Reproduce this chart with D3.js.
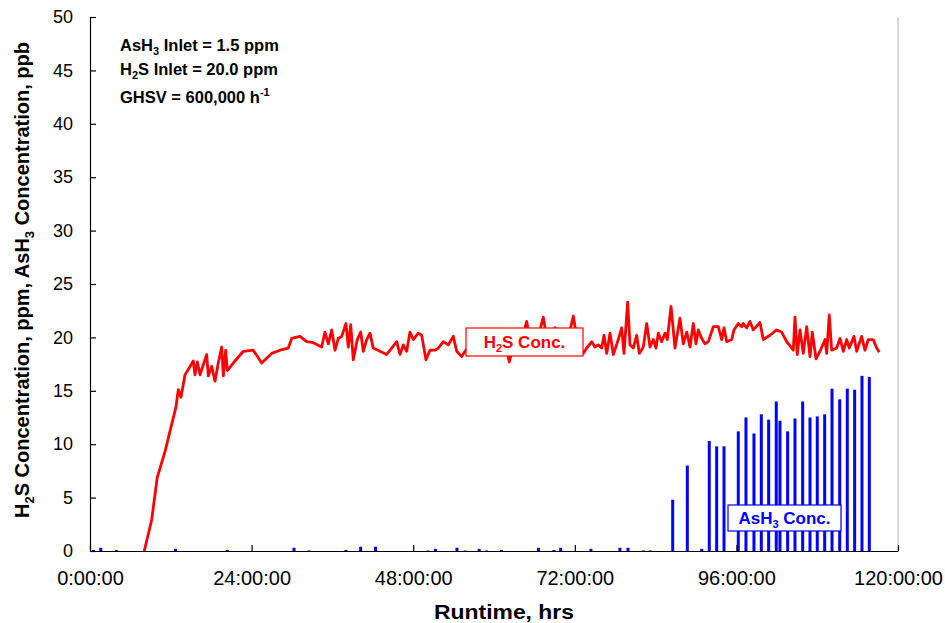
<!DOCTYPE html>
<html>
<head>
<meta charset="utf-8">
<script src="https://cdn.jsdelivr.net/npm/d3@7"></script>
<style>
  body { margin: 0; background: #fff; }
  text { font-family: "Liberation Sans", Arial, sans-serif; }
</style>
</head>
<body>
<div id="chart"></div>
<script>
// H2S outlet concentration (ppm) vs runtime (hrs)
var h2sHours = [8.06, 9.16, 9.99, 11.14, 12.77, 13.11, 13.51, 14.11, 14.60, 15.34,
  15.59, 15.94, 16.34, 17.33, 17.57, 18.07, 18.56, 19.05, 19.56, 19.80,
  20.15, 20.39, 21.28, 22.77, 24.25, 25.50, 26.98, 28.22, 29.45, 29.95,
  31.19, 32.18, 33.16, 34.41, 34.90, 35.39, 35.90, 36.39, 36.88, 37.38,
  38.02, 38.36, 38.72, 39.10, 39.70, 40.20, 40.59, 41.09, 41.58, 42.07,
  43.07, 44.06, 44.81, 45.55, 46.04, 46.53, 47.03, 47.52, 48.01, 48.76,
  49.26, 49.90, 50.49, 51.24, 51.73, 52.47, 53.21, 53.95, 54.46, 55.20,
  55.69, 56.44, 57.33, 58.22, 59.11, 60.00, 60.89, 61.63, 62.27, 62.97,
  63.86, 64.85, 65.49, 66.38, 67.32, 68.02, 69.06, 69.80, 70.69, 71.78,
  72.47, 73.26, 73.77, 74.51, 75.00, 75.49, 75.99, 76.34, 76.74, 77.23,
  77.72, 78.46, 78.96, 79.31, 79.85, 80.20, 80.69, 81.19, 81.58, 82.17,
  82.68, 83.17, 83.66, 84.06, 84.40, 84.90, 85.40, 85.74, 86.29, 86.88,
  87.62, 88.11, 88.62, 89.11, 89.60, 90.00, 90.34, 90.85, 91.34, 91.83,
  92.57, 93.31, 93.82, 94.16, 94.56, 95.30, 95.64, 96.28, 96.79, 97.02,
  97.53, 98.02, 98.51, 99.50, 99.99, 100.99, 101.98, 102.72, 103.47, 104.45,
  104.70, 105.04, 105.45, 105.93, 106.44, 106.93, 107.27, 107.82, 108.42, 109.16,
  109.41, 109.79, 110.15, 110.89, 111.39, 111.88, 112.38, 112.76, 113.46, 113.86,
  114.60, 115.09, 115.58, 116.32, 116.83, 117.22];
var h2sConc = [0, 2.9, 6.9, 9.3, 13.5, 15.1, 14.4, 16.5, 17.0, 17.8,
  16.5, 17.7, 16.5, 18.4, 16.4, 17.3, 15.9, 17.6, 19.1, 16.4,
  18.8, 16.9, 17.6, 18.7, 18.8, 17.6, 18.5, 18.8, 19.0, 19.9,
  20.1, 19.6, 19.5, 19.1, 20.5, 19.4, 20.7, 18.8, 19.9, 20.1,
  21.3, 19.1, 21.2, 17.9, 19.8, 20.5, 18.7, 19.8, 20.4, 19.0,
  18.7, 18.4, 19.0, 19.6, 18.4, 19.3, 18.7, 20.5, 19.8, 20.4,
  20.2, 17.9, 18.8, 18.8, 19.0, 19.6, 19.3, 20.1, 18.7, 18.2,
  18.7, 19.3, 18.8, 19.5, 19.0, 19.6, 19.2, 19.8, 17.7, 19.4,
  19.0, 21.5, 19.3, 19.6, 21.9, 19.2, 20.9, 19.4, 19.0, 22.0,
  19.3, 18.5, 19.0, 19.6, 19.1, 19.3, 19.0, 20.2, 18.5, 20.4,
  18.4, 19.8, 20.9, 18.5, 23.3, 19.3, 19.0, 20.2, 18.5, 19.1,
  21.3, 19.1, 19.8, 19.0, 20.4, 19.6, 20.4, 19.8, 22.9, 19.0,
  21.8, 19.4, 20.5, 19.1, 21.3, 19.4, 20.7, 19.9, 19.4, 19.6,
  21.0, 21.0, 19.8, 20.9, 19.6, 19.8, 20.7, 21.3, 21.0, 21.3,
  20.9, 21.5, 20.7, 21.4, 19.8, 20.2, 20.7, 20.5, 19.6, 18.8,
  21.9, 18.4, 20.7, 18.5, 21.0, 18.2, 20.5, 18.0, 18.7, 19.8,
  18.5, 22.1, 18.8, 19.0, 19.9, 18.7, 19.8, 19.0, 20.1, 18.7,
  20.1, 18.8, 19.8, 19.8, 19.0, 18.6];

// AsH3 outlet concentration (ppb) samples vs runtime (hrs)
var ashHours = [0.5, 1.6, 3.9, 12.7, 20.4, 30.3, 32.5, 38.0, 40.2, 42.4,
  50.2, 51.3, 54.5, 55.7, 57.8, 58.9, 61.1, 66.6, 68.9, 69.9,
  74.4, 78.7, 79.9, 82.2, 83.2, 86.54, 88.71, 90.85, 91.97, 93.07,
  94.16, 96.28, 97.42, 98.61, 99.70, 100.79, 101.92, 102.47, 103.61, 104.70,
  105.84, 106.93, 108.01, 109.11, 110.20, 111.34, 112.47, 113.56, 114.65, 115.74];
var ashConc = [0.1, 0.3, 0.1, 0.2, 0.1, 0.3, 0.05, 0.1, 0.4, 0.4,
  0.05, 0.2, 0.3, 0.05, 0.2, 0.05, 0.1, 0.3, 0.1, 0.3,
  0.2, 0.3, 0.3, 0.05, 0.05, 4.8, 8.0, 0.2, 10.3, 9.8,
  9.8, 11.2, 12.5, 11.0, 12.8, 12.3, 14.0, 12.2, 11.2, 12.4,
  14.0, 12.5, 12.6, 12.8, 15.2, 14.2, 15.2, 15.1, 16.4, 16.3];

var xTicks = [0, 24, 48, 72, 96, 120];
var xTickLabels = ["0:00:00", "24:00:00", "48:00:00", "72:00:00", "96:00:00", "120:00:00"];
var yTicks = [0, 5, 10, 15, 20, 25, 30, 35, 40, 45, 50];

var outerWidth = 945,
    outerHeight = 623,
    margin = {top: 17, right: 47, bottom: 72, left: 90},
    width = outerWidth - margin.left - margin.right,
    height = outerHeight - margin.top - margin.bottom;

var xScale = d3.scaleLinear().domain([0, 120]).range([0, width]);
var yScale = d3.scaleLinear().domain([0, 50]).range([height, 0]);

var svg = d3.select("#chart")
    .append("svg")
    .attr("width", outerWidth)
    .attr("height", outerHeight);

var g = svg.append("g")
    .attr("transform", "translate(" + margin.left + "," + margin.top + ")");

// light right border of plot area
g.append("line")
    .attr("x1", width).attr("x2", width)
    .attr("y1", 0).attr("y2", height)
    .attr("stroke", "#b0b0b0")
    .attr("stroke-width", 1);

// AsH3 drop lines
g.selectAll(".ash")
    .data(ashHours)
    .enter().append("line")
    .attr("class", "ash")
    .attr("x1", d => xScale(d))
    .attr("x2", d => xScale(d))
    .attr("y1", yScale(0))
    .attr("y2", (d, i) => yScale(ashConc[i]))
    .attr("stroke", "#0000ff")
    .attr("stroke-width", 3);

// H2S line
var line = d3.line()
    .x(d => xScale(d))
    .y((d, i) => yScale(h2sConc[i]));

g.append("path")
    .datum(h2sHours)
    .attr("d", line)
    .attr("fill", "none")
    .attr("stroke", "#ff0000")
    .attr("stroke-width", 2.8)
    .attr("stroke-linejoin", "round");

// axes, ticks point inwards
var xAxis = d3.axisBottom(xScale)
    .tickValues(xTicks)
    .tickSizeInner(-6)
    .tickSizeOuter(0)
    .tickPadding(20)
    .tickFormat((d, i) => xTickLabels[i]);

var yAxis = d3.axisLeft(yScale)
    .tickValues(yTicks)
    .tickSizeInner(-6)
    .tickSizeOuter(0)
    .tickPadding(17);

var gx = g.append("g")
    .attr("transform", "translate(0," + height + ")")
    .call(xAxis);
gx.selectAll("text").attr("font-size", 20).attr("fill", "#000");

var gy = g.append("g").call(yAxis);
gy.selectAll("text").attr("font-size", 18).attr("fill", "#000");

svg.selectAll(".domain, .tick line").attr("stroke", "#000").attr("stroke-width", 1.2);

// axis titles
svg.append("text")
    .attr("x", 504)
    .attr("y", 619)
    .attr("text-anchor", "middle")
    .attr("font-size", 20)
    .attr("font-weight", "bold")
    .attr("textLength", 140)
    .attr("lengthAdjust", "spacingAndGlyphs")
    .text("Runtime, hrs");

var yTitle = svg.append("text")
    .attr("transform", "translate(29,280) rotate(-90)")
    .attr("text-anchor", "middle")
    .attr("font-size", 20)
    .attr("font-weight", "bold");
yTitle.append("tspan").text("H");
yTitle.append("tspan").attr("font-size", 13).attr("dy", 5).text("2");
yTitle.append("tspan").attr("dy", -5).text("S Concentration, ppm, AsH");
yTitle.append("tspan").attr("font-size", 13).attr("dy", 5).text("3");
yTitle.append("tspan").attr("dy", -5).text(" Concentration, ppb");

// conditions text
var notes = svg.append("g").attr("font-size", 16.5).attr("font-weight", "bold");
var n1 = notes.append("text").attr("x", 120).attr("y", 51);
n1.append("tspan").text("AsH");
n1.append("tspan").attr("font-size", 11).attr("dy", 4).text("3");
n1.append("tspan").attr("dy", -4).text(" Inlet = 1.5 ppm");
var n2 = notes.append("text").attr("x", 120).attr("y", 75);
n2.append("tspan").text("H");
n2.append("tspan").attr("font-size", 11).attr("dy", 4).text("2");
n2.append("tspan").attr("dy", -4).text("S Inlet = 20.0 ppm");
var n3 = notes.append("text").attr("x", 120).attr("y", 103);
n3.append("tspan").text("GHSV = 600,000 h");
n3.append("tspan").attr("font-size", 11).attr("dy", -7).text("-1");

// series labels
function seriesLabel(cx, cy, w, h, color, parts) {
  svg.append("rect")
      .attr("x", cx - w / 2).attr("y", cy - h / 2)
      .attr("width", w).attr("height", h)
      .attr("fill", "#fff")
      .attr("stroke", color)
      .attr("stroke-width", 1.2);
  var t = svg.append("text")
      .attr("x", cx).attr("y", cy + 6)
      .attr("text-anchor", "middle")
      .attr("font-size", 17)
      .attr("font-weight", "bold")
      .attr("fill", color);
  t.append("tspan").text(parts[0]);
  t.append("tspan").attr("font-size", 11).attr("dy", 4).text(parts[1]);
  t.append("tspan").attr("dy", -4).text(parts[2]);
}
seriesLabel(524.5, 342, 117, 28, "#ff0000", ["H", "2", "S Conc."]);
seriesLabel(784.5, 518, 113, 26, "#0000ff", ["AsH", "3", " Conc."]);
</script>
</body>
</html>
